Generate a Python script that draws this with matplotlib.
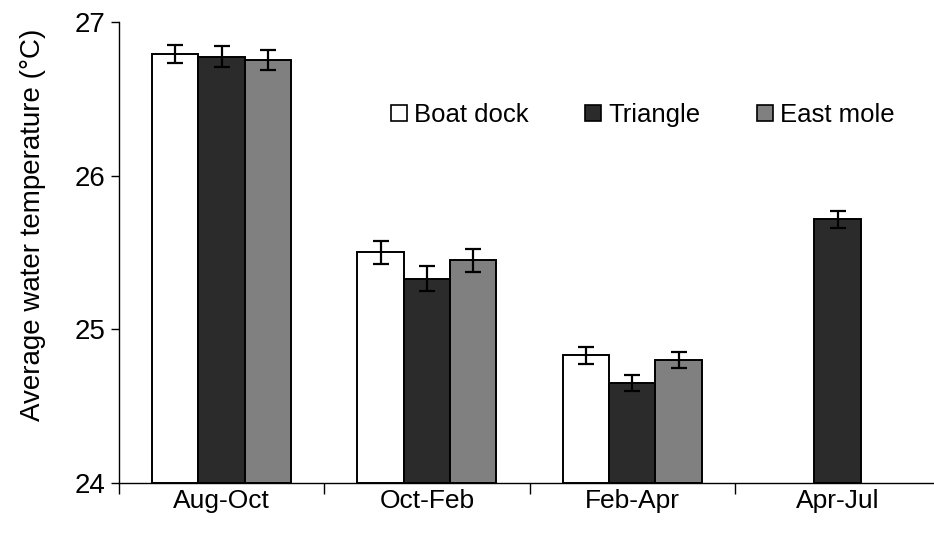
import matplotlib
matplotlib.use("Agg")
import matplotlib.pyplot as plt
import matplotlib.patches as mpatches
import numpy as np

plt.rcParams['font.family'] = ['Liberation Sans', 'DejaVu Sans']

periods = ["Aug-Oct", "Oct-Feb", "Feb-Apr", "Apr-Jul"]
sites = ["Boat dock", "Triangle", "East mole"]
colors = ["#ffffff", "#2b2b2b", "#808080"]

# mean temperature (deg C) and standard error per site, nan = not sampled
boat_dock = [26.79, 25.50, 24.83, np.nan]
triangle = [26.775, 25.33, 24.65, 25.715]
east_mole = [26.755, 25.45, 24.80, np.nan]
boat_dock_err = [0.06, 0.075, 0.055, np.nan]
triangle_err = [0.07, 0.08, 0.05, 0.055]
east_mole_err = [0.065, 0.075, 0.055, np.nan]

means = [boat_dock, triangle, east_mole]
errs = [boat_dock_err, triangle_err, east_mole_err]

fig = plt.figure(figsize=(9.34, 5.37), dpi=100)
ax = fig.add_axes([0.1274, 0.1006, 0.8726, 0.8585])

x = np.arange(len(periods))
w = 0.2255
for i, (vals, err) in enumerate(zip(means, errs)):
    pos = x + (i - 1) * w
    vals = np.array(vals)
    ax.bar(pos, vals - 24, bottom=24, width=w, color=colors[i],
           edgecolor="black", linewidth=1.4, zorder=2)
    ax.errorbar(pos, vals, yerr=err, fmt="none", ecolor="black",
                elinewidth=1.6, capsize=6, capthick=1.6, zorder=3)

ax.set_ylim(24, 27)
ax.set_xlim(-0.5, 3.47)
ax.set_yticks([24, 25, 26, 27])
ax.set_xticks(x)
ax.set_xticklabels(periods)
ax.set_xticks(np.arange(-0.5, 3.5, 1.0), minor=True)
ax.tick_params(axis="x", which="major", length=0, pad=4, labelsize=19)
ax.tick_params(axis="x", which="minor", length=8, width=1, direction="out")
ax.tick_params(axis="y", length=6, width=1, direction="out", pad=4, labelsize=20)
ax.spines["top"].set_visible(False)
ax.spines["right"].set_visible(False)
ax.spines["left"].set_linewidth(1)
ax.spines["bottom"].set_linewidth(1)
ax.set_ylabel("Average water temperature (°C)", fontsize=20)
ax.yaxis.set_label_coords(-0.09, 0.56)

handles = [mpatches.Patch(facecolor=c, edgecolor="black", linewidth=1.2)
           for c in colors]
ax.legend(handles, sites, ncol=3, frameon=False, fontsize=18.5,
          handlelength=0.6, handleheight=0.6, handletextpad=0.3,
          columnspacing=2.2, loc="center", bbox_to_anchor=(0.643, 0.798))

fig.savefig("out.png", dpi=100)
